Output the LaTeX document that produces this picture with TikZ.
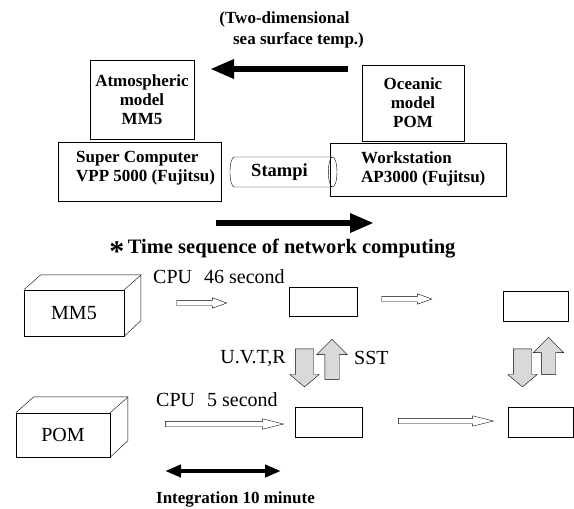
\documentclass[tikz,border=0pt]{standalone}
\usepackage{fontspec}
\setmainfont{Liberation Serif}
\usetikzlibrary{shapes.geometric,shapes.arrows,arrows.meta}

\tikzset{
  box/.style={draw, inner sep=0pt},
  bold/.style={font=\bfseries\fontsize{17}{19}\selectfont, align=center, inner sep=0pt},
  plain/.style={font=\fontsize{20}{22}\selectfont, inner sep=0pt},
  hollow/.style={single arrow, draw, fill=white, inner sep=0pt, inner ysep=2.5pt,
                 single arrow head extend=2.5pt, single arrow tip angle=#1},
  hollow/.default=40,
  fatdown/.style={single arrow, draw, fill=gray!30, inner sep=0pt, inner ysep=9pt,
                  single arrow head extend=5.5pt, single arrow tip angle=100, rotate=-90},
  fatup/.style={single arrow, draw, fill=gray!30, inner sep=0pt, inner ysep=7pt,
                single arrow head extend=8pt, single arrow tip angle=90, rotate=90},
  bigarrow/.style={line width=6pt, -{Triangle[length=24pt,width=18pt]}}
}

\begin{document}
\begin{tikzpicture}[x=1pt, y=-1pt]
\useasboundingbox (0,0) rectangle (574,509);

% top: the two machines
\node[bold] (sst1) at (284.5,19) {(Two-dimensional};
\node[bold] (sst2) at (298.5,40) {sea surface temp.)};

\node[box, minimum width=104pt, minimum height=79pt] (atmo) at (142,99.5) {};
\node[bold] (atmotxt) at (atmo) {Atmospheric\\model\\MM5};
\node[box, minimum width=102pt, minimum height=76pt] (ocean) at (413,103) {};
\node[bold] (oceantxt) at (ocean) {Oceanic\\model\\POM};

\node[box, minimum width=163pt, minimum height=59pt] (sc) at (139.5,171.5) {};
\node[bold, align=left, anchor=west] (sctxt) at (76,168.5) {Super Computer\\VPP 5000 (Fujitsu)};
\node[box, minimum width=176pt, minimum height=53pt] (ws) at (418,169.5) {};
\node[bold, align=left, anchor=west] (wstxt) at (361,168.5) {Workstation\\AP3000 (Fujitsu)};

\node[cylinder, draw, minimum width=30pt, minimum height=107pt, aspect=0.3, bold,
      font=\bfseries\fontsize{18.5}{20}\selectfont, inner ysep=6pt] (stampi) at (279.5,172) {Stampi};

% big arrows
\coordinate (sstfrom) at (348,69);
\coordinate (sstto)   at (210,69);
\draw[bigarrow] (sstfrom) -- (sstto);
\coordinate (netfrom) at (216,223);
\coordinate (netto)   at (374,223);
\draw[bigarrow] (netfrom) -- (netto);

\node[font=\bfseries\fontsize{20.5}{22}\selectfont, inner sep=0pt] (seq) at (282.5,250)
  {\raisebox{-8pt}{\fontsize{30}{30}\selectfont *}\,Time sequence of network computing};

% ---- time sequence ----
\node[box, plain, minimum width=100pt, minimum height=46pt] (mm5) at (74,313) {MM5};
\draw (mm5.north west) -- ++(17,-15) -- ++(100,0) -- ++(0,46) -- (mm5.south east);
\draw (mm5.north east) -- ++(17,-15);

\node[box, plain, minimum width=94pt, minimum height=44pt] (pom) at (63,435) {POM};
\draw (pom.north west) -- ++(18,-16) -- ++(94,0) -- ++(0,44) -- (pom.south east);
\draw (pom.north east) -- ++(18,-16);

\node[plain, anchor=west] (cpu1) at (153,277) {CPU\hspace{0.6em}46 second};
\node[plain, anchor=west] (cpu2) at (156,400) {CPU\hspace{0.6em}5 second};

\node[box, minimum width=68pt, minimum height=29pt] (a1) at (323,301.5) {};
\node[box, minimum width=65pt, minimum height=30pt] (a2) at (535.5,306) {};
\node[box, minimum width=67pt, minimum height=30pt] (b1) at (328.5,422) {};
\node[box, minimum width=65pt, minimum height=30pt] (b2) at (540.5,422) {};

\node[hollow, minimum height=50pt] (h1) at (198,303) {};
\node[hollow, minimum height=50pt] (h2) at (403,299) {};
\node[hollow=28, minimum height=118pt] (h3) at (219,424) {};
\node[hollow=28, minimum height=95pt] (h4) at (440.5,421) {};

\node[fatdown, minimum height=38pt] (d1) at (304.5,364) {};
\node[fatup, minimum height=40pt] (u1) at (332,363) {};
\node[fatdown, minimum height=38pt] (d2) at (522.5,364) {};
\node[fatup, minimum height=37pt] (u2) at (548.5,359.5) {};

\node[plain, anchor=east] (uvtr) at (286,358) {U.V.T,R};
\node[plain, anchor=west] (sst) at (354,358) {SST};

\coordinate (intl) at (165,471);
\coordinate (intr) at (281,471);
\draw[line width=4pt, {Triangle[length=16pt,width=12pt]}-{Triangle[length=16pt,width=12pt]}] (intl) -- (intr);
\node[bold] (integ) at (235.5,499) {Integration 10 minute};
\end{tikzpicture}
\end{document}
